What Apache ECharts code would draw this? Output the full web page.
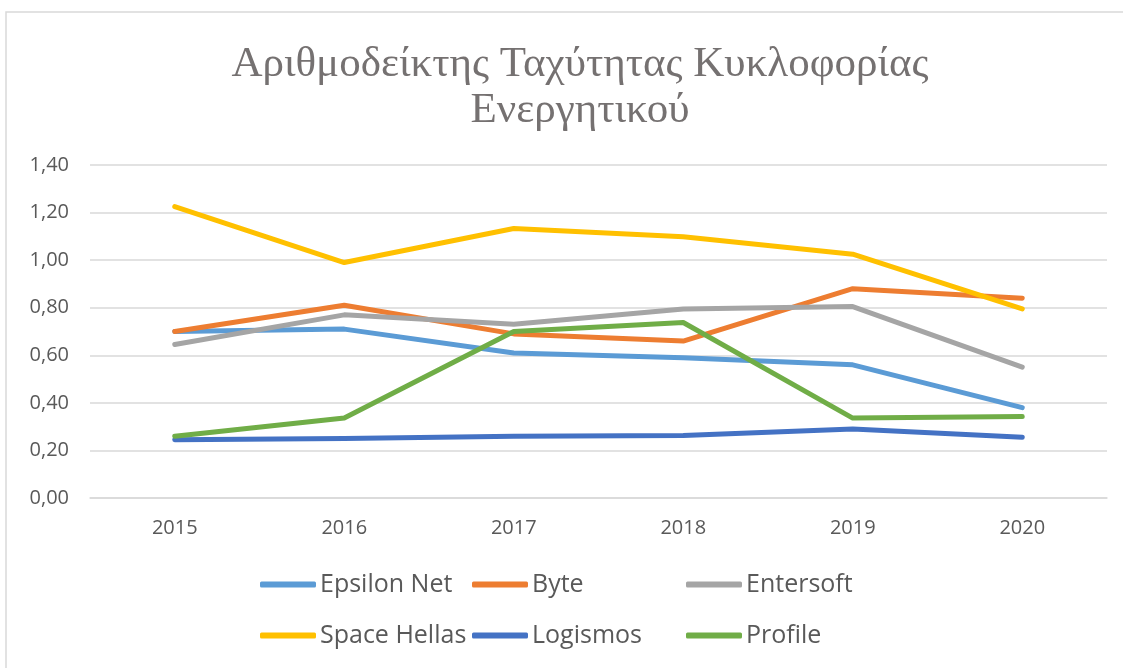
<!DOCTYPE html>
<html>
<head>
<meta charset="utf-8">
<script src="https://cdn.jsdelivr.net/npm/echarts@6/dist/echarts.min.js"></script>
<style>
  html, body { margin: 0; padding: 0; background: #fff; }
  #main { width: 1123px; height: 668px; }
</style>
</head>
<body>
<div id="main"></div>
<script>
var chartDom = document.getElementById('main');
var myChart = echarts.init(chartDom);
var option;

// Years on the x axis
const years = ['2015', '2016', '2017', '2018', '2019', '2020'];

// Company names, in legend order
const names = ['Epsilon Net', 'Byte', 'Entersoft', 'Space Hellas', 'Logismos', 'Profile'];

// Values, one array per company
const epsilonNet = [0.70, 0.71, 0.61, 0.59, 0.56, 0.38];
const byte = [0.70, 0.81, 0.69, 0.66, 0.88, 0.84];
const entersoft = [0.645, 0.77, 0.73, 0.795, 0.805, 0.55];
const spaceHellas = [1.225, 0.99, 1.133, 1.098, 1.025, 0.795];
const logismos = [0.245, 0.25, 0.26, 0.263, 0.29, 0.255];
const profile = [0.26, 0.336, 0.70, 0.738, 0.336, 0.343];

const values = [epsilonNet, byte, entersoft, spaceHellas, logismos, profile];
const colors = ['#5B9BD5', '#ED7D31', '#A5A5A5', '#FFC000', '#4472C4', '#70AD47'];

const textColor = '#595959';
const gridColor = '#D9D9D9';

// one legend per item so the two rows line up in three columns
const legendCols = [260, 472, 686];
const legendRows = [572, 623];
let legends = [];
let series = [];

names.forEach(function (name, idx) {
  legends.push({
    data: [name],
    left: legendCols[idx % 3],
    top: legendRows[Math.floor(idx / 3)],
    padding: 0,
    icon: 'roundRect',
    itemWidth: 56,
    itemHeight: 6,
    textStyle: {
      fontFamily: 'Open Sans',
      fontSize: 25,
      color: textColor,
      padding: [0, 0, 0, -1]
    }
  });
  series.push({
    name: name,
    type: 'line',
    data: values[idx],
    symbol: 'none',
    color: colors[idx],
    lineStyle: {
      width: 5,
      cap: 'round',
      join: 'round'
    }
  });
});

option = {
  backgroundColor: '#fff',
  animation: false,
  title: {
    text: 'Αριθμοδείκτης Ταχύτητας Κυκλοφορίας\nΕνεργητικού',
    left: 575,
    textAlign: 'center',
    top: 37,
    textStyle: {
      fontFamily: "'Liberation Serif', 'DejaVu Serif', serif",
      fontWeight: 'normal',
      fontSize: 43,
      lineHeight: 46,
      color: '#757171'
    }
  },
  graphic: [{
    type: 'rect',
    shape: { x: 6, y: 12, width: 1140, height: 700 },
    style: { fill: 'none', stroke: gridColor, lineWidth: 1.5 },
    silent: true
  }],
  legend: legends,
  grid: {
    left: 90,
    right: 16,
    top: 165,
    bottom: 170
  },
  xAxis: {
    type: 'category',
    data: years,
    boundaryGap: true,
    axisTick: { show: false },
    axisLine: { lineStyle: { color: gridColor, width: 1.5 } },
    axisLabel: {
      margin: 20,
      fontFamily: 'Open Sans',
      fontSize: 20,
      color: textColor
    }
  },
  yAxis: {
    type: 'value',
    min: 0,
    max: 1.4,
    interval: 0.2,
    axisLine: { show: false },
    axisTick: { show: false },
    splitLine: { lineStyle: { color: gridColor, width: 1.5 } },
    axisLabel: {
      margin: 21,
      fontFamily: 'Open Sans',
      fontSize: 20,
      color: textColor,
      formatter: function (v) {
        return v.toFixed(2).replace('.', ',');
      }
    }
  },
  series: series
};

option && myChart.setOption(option);
</script>
</body>
</html>
